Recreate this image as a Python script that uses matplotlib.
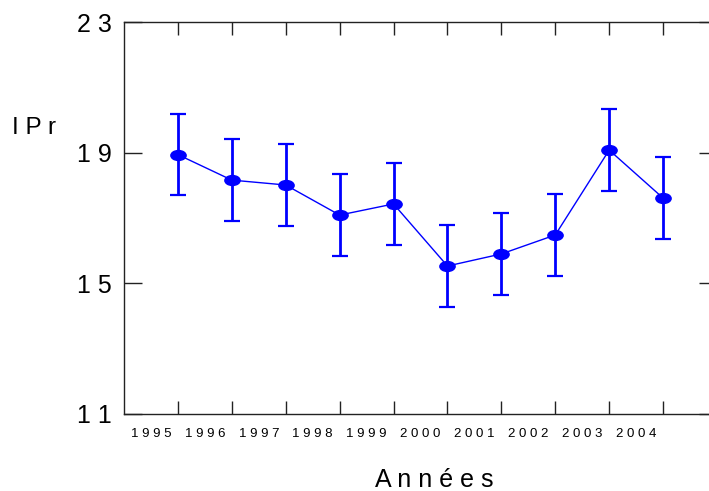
import numpy as np
import matplotlib
matplotlib.use('Agg')
import matplotlib.pyplot as plt
from matplotlib.path import Path
from matplotlib.transforms import Affine2D

plt.rcParams['font.family'] = ['Liberation Sans', 'DejaVu Sans']

# données
years = np.array([1995, 1996, 1997, 1998, 1999, 2000, 2001, 2002, 2003, 2004])
ipr = [18.94, 18.16, 18.01, 17.09, 17.43, 15.53, 15.90, 16.48, 19.08, 17.61]
err = [1.25, 1.25, 1.25, 1.25, 1.25, 1.25, 1.25, 1.25, 1.25, 1.25]
year_labels = ['1 9 9 5', '1 9 9 6', '1 9 9 7', '1 9 9 8', '1 9 9 9',
               '2 0 0 0', '2 0 0 1', '2 0 0 2', '2 0 0 3', '2 0 0 4']
yticks = [11, 15, 19, 23]
ytick_labels = ['1 1', '1 5', '1 9', '2 3']

fig = plt.figure(figsize=(7.09, 4.91), dpi=100)
ax = fig.add_axes([124/709, 1 - 414/491, (717 - 124)/709, (414 - 22)/491])

# marqueur ellipse (plus large que haut)
ellipse = Path.unit_circle().transformed(Affine2D().scale(1.0, 0.65))

ax.errorbar(years, ipr, yerr=err, color='#0000ff', lw=1, marker=ellipse,
            markersize=11, elinewidth=2, capsize=6, capthick=1.6)

ax.set_xlim(1994, 2005)
ax.set_ylim(11, 23)

ax.set_yticks(yticks, ytick_labels)
ax.set_xticks(years, [''] * len(years))
ax.set_xticks(years - 0.5, year_labels, minor=True)

ax.tick_params(axis='y', which='major', direction='in', length=13, width=1,
               labelsize=18, pad=9, right=True, colors='#222222', labelcolor='black')
ax.tick_params(axis='x', which='major', direction='in', length=9.5, width=1,
               top=True, colors='#222222')
ax.tick_params(axis='x', which='minor', length=0, labelsize=9.5, pad=10)

ax.spines['right'].set_visible(False)
for s in ['top', 'left', 'bottom']:
    ax.spines[s].set_color('#222222')
    ax.spines[s].set_linewidth(1)

fig.text(34/709, 1 - 128/491, 'I P r', fontsize=17.5, ha='center', va='center')
fig.text(434/709, 1 - 480/491, 'A n n é e s', fontsize=18, ha='center', va='center')

fig.savefig('out.png', dpi=100)
